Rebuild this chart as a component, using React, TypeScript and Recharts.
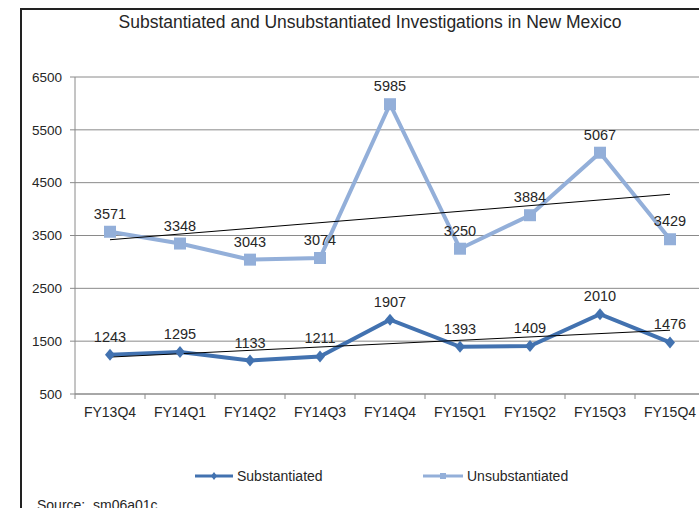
import React from 'react'
import { LineChart, Line, XAxis, YAxis, CartesianGrid, LabelList } from 'recharts'

const categories = ['FY13Q4', 'FY14Q1', 'FY14Q2', 'FY14Q3', 'FY14Q4', 'FY15Q1', 'FY15Q2', 'FY15Q3', 'FY15Q4']
const substantiated = [1243, 1295, 1133, 1211, 1907, 1393, 1409, 2010, 1476]
const unsubstantiated = [3571, 3348, 3043, 3074, 5985, 3250, 3884, 5067, 3429]
// linear trendline end points (first and last quarter)
const subTrendEnds = [1199, 1707]
const unsubTrendEnds = [3420, 4280]
const yTicks = [500, 1500, 2500, 3500, 4500, 5500, 6500]

const data = categories.map((quarter, i) => ({
  quarter,
  substantiated: substantiated[i],
  unsubstantiated: unsubstantiated[i],
  subTrend: i === 0 ? subTrendEnds[0] : i === categories.length - 1 ? subTrendEnds[1] : null,
  unsubTrend: i === 0 ? unsubTrendEnds[0] : i === categories.length - 1 ? unsubTrendEnds[1] : null,
}))

const FONT = '"Liberation Sans", Arial, sans-serif'
const TEXT = '#262626'
const GRID = '#8a8a8a'
const DARK = '#4272b0'
const LIGHT = '#93afd9'

const Diamond = ({ cx, cy }: any) => {
  if (cx == null || cy == null) return null
  return <path d={`M${cx} ${cy - 6}L${cx + 5} ${cy}L${cx} ${cy + 6}L${cx - 5} ${cy}Z`} fill={DARK} />
}

const Square = ({ cx, cy }: any) => {
  if (cx == null || cy == null) return null
  return <rect x={cx - 6} y={cy - 6} width={12} height={12} fill={LIGHT} />
}

const XTick = ({ x, y, payload, index }: any) => {
  const half = payload?.offset ?? 0
  const axisY = y - 13
  const last = index === categories.length - 1
  return (
    <g>
      <line x1={x - half} x2={x - half} y1={axisY} y2={axisY + 5} stroke={GRID} />
      {last && <line x1={x + half} x2={x + half} y1={axisY} y2={axisY + 5} stroke={GRID} />}
      <text x={x} y={y} dy="0.71em" textAnchor="middle" fill={TEXT} fontSize={14} fontFamily={FONT}>
        {payload.value}
      </text>
    </g>
  )
}

export default function App() {
  return (
    <div style={{ position: 'fixed', left: 0, top: 0, width: 699, height: 508, overflow: 'hidden', background: '#fff', fontFamily: FONT }}>
      <div style={{ position: 'absolute', left: 20, top: 8, width: 720, height: 520, borderLeft: '2px solid #222', borderTop: '2px solid #222', boxSizing: 'border-box' }} />
      <div style={{ position: 'absolute', left: 20, width: 700, top: 12, textAlign: 'center', fontSize: 17.5, color: TEXT }}>
        Substantiated and Unsubstantiated Investigations in New Mexico
      </div>

      <div style={{ position: 'absolute', left: 0, top: 0 }}>
        <LineChart width={720} height={508} data={data} margin={{ top: 77, right: 15, bottom: 84, left: 20 }}>
          <CartesianGrid horizontal vertical={false} stroke={GRID} strokeWidth={1} />
          <XAxis
            dataKey="quarter"
            scale="band"
            height={30}
            axisLine={{ stroke: GRID }}
            tickLine={false}
            tickSize={0}
            tickMargin={13}
            interval={0}
            tick={<XTick />}
          />
          <YAxis
            width={55}
            domain={[500, 6500]}
            ticks={yTicks}
            interval={0}
            axisLine={{ stroke: GRID }}
            tickLine={{ stroke: GRID }}
            tickSize={5}
            tickMargin={8}
            tick={{ fill: TEXT, fontSize: 13.5, fontFamily: FONT }}
          />
          <Line
            type="linear"
            dataKey="substantiated"
            stroke={DARK}
            strokeWidth={4}
            dot={<Diamond />}
            activeDot={false}
            isAnimationActive={false}
            name="Substantiated"
          >
            <LabelList dataKey="substantiated" position="top" offset={13} fill={TEXT} fontSize={14.5} fontFamily={FONT} />
          </Line>
          <Line
            type="linear"
            dataKey="unsubstantiated"
            stroke={LIGHT}
            strokeWidth={4}
            dot={<Square />}
            activeDot={false}
            isAnimationActive={false}
            name="Unsubstantiated"
          >
            <LabelList dataKey="unsubstantiated" position="top" offset={13} fill={TEXT} fontSize={14.5} fontFamily={FONT} />
          </Line>
          <Line type="linear" dataKey="subTrend" stroke="#000" strokeWidth={1} dot={false} activeDot={false} connectNulls isAnimationActive={false} legendType="none" />
          <Line type="linear" dataKey="unsubTrend" stroke="#000" strokeWidth={1} dot={false} activeDot={false} connectNulls isAnimationActive={false} legendType="none" />
        </LineChart>
      </div>

      {/* legend */}
      <div style={{ position: 'absolute', left: 195, top: 468, display: 'flex', alignItems: 'center', fontSize: 14, color: TEXT }}>
        <svg width={40} height={14}>
          <line x1={0} x2={38} y1={7} y2={7} stroke={DARK} strokeWidth={3} />
          <path d="M19 3L22 7L19 11L16 7Z" fill={DARK} />
        </svg>
        <span style={{ marginLeft: 2 }}>Substantiated</span>
      </div>
      <div style={{ position: 'absolute', left: 423, top: 468, display: 'flex', alignItems: 'center', fontSize: 14, color: TEXT }}>
        <svg width={42} height={14}>
          <line x1={0} x2={40} y1={7} y2={7} stroke={LIGHT} strokeWidth={3} />
          <rect x={17} y={4} width={6} height={6} fill={LIGHT} />
        </svg>
        <span style={{ marginLeft: 2 }}>Unsubstantiated</span>
      </div>
      <div style={{ position: 'absolute', left: 37, top: 497, fontSize: 14, color: TEXT, whiteSpace: 'pre' }}>
        Source:  sm06a01c
      </div>
    </div>
  )
}
